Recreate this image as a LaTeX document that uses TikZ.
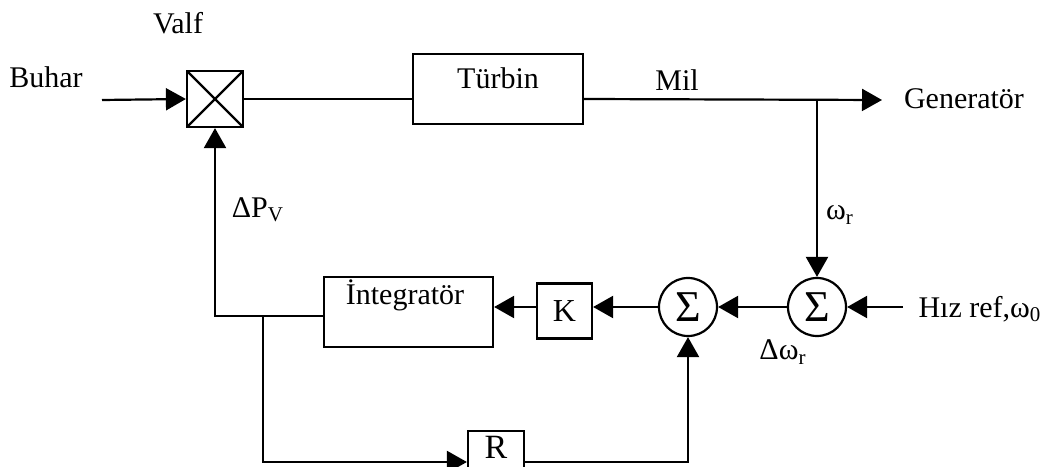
\documentclass[tikz,border=0pt]{standalone}
\usepackage{fontspec}
\setmainfont{Liberation Serif}
\usetikzlibrary{arrows.meta}
\begin{document}
\begin{tikzpicture}[x=0.5pt, y=0.5pt, line width=1.1pt,
    >={Triangle[length=10pt,width=11pt]},
    every node/.style={font=\fontsize{15}{18}\selectfont, inner sep=2pt},
    block/.style={draw, inner sep=0pt},
    valvebox/.style={draw, minimum size=28pt, inner sep=0pt,
        path picture={\draw (path picture bounding box.north west) -- (path picture bounding box.south east)
                            (path picture bounding box.south west) -- (path picture bounding box.north east);}},
    sumnode/.style={draw, circle, minimum size=29pt, inner sep=0pt, font=\fontsize{22}{26}\selectfont}]
    \useasboundingbox (0,0) rectangle (1049,466);

    % upper path
    \node (valftext) at (178,443) {Valf};
    \node (buhar) at (46,389) {Buhar};
    \coordinate (buharin) at (102,366);
    \node[valvebox] (valve) at (215,367) {};
    \node[block, minimum width=85pt, minimum height=35pt] (turbine) at (498,377) {};
    \node (turbinetext) at (498,388) {Türbin};
    \node (mil) at (677,386) {Mil};
    \coordinate (genin) at (882,366);
    \node (gen) at (964,367) {Generatör};

    % speed loop
    \node[sumnode] (sum2) at (817,159) {Σ};
    \node[sumnode] (sum1) at (688,159) {Σ};
    \coordinate (refin) at (903,159);
    \node (ref) at (980,157) {Hız ref,ω\textsubscript{0}};
    \node[block, minimum size=27.5pt, font=\fontsize{16}{19}\selectfont] (kbox) at (564.5,155) {K};
    \node[block, minimum width=84.5pt, minimum height=35pt] (integ) at (408.5,154) {};
    \node (integtext) at (405,171) {İntegratör};
    \node[block, minimum width=28pt, minimum height=23pt] (rbox) at (496,12) {};
    \node[font=\fontsize{17}{20}\selectfont] (rtext) at (496,19) {R};
    \coordinate (tap) at (sum2.north |- genin);
    \coordinate (fbcorner) at (valve.south |- 0,150);
    \coordinate (branch) at (263,150);
    \coordinate (rlow) at (263,4);

    \node (dpv) at (258,256) {ΔP\textsubscript{V}};
    \node (wr) at (840,251) {ω\textsubscript{r}};
    \node (dwr) at (783,114) {Δω\textsubscript{r}};

    \draw[->] (buharin) -- (valve.west);
    \draw (valve.east) -- (valve.east -| turbine.west);
    \draw[->] (turbine.east |- valve.east) -- (genin);
    \draw[->] (tap) -- (sum2.north);
    \draw[->] (refin) -- (sum2.east);
    \draw[->] (sum2.west) -- (sum1.east);
    \draw[->] (sum1.west) -- (sum1.west -| kbox.east);
    \draw[->] (sum1 -| kbox.west) -- (sum1 -| integ.east);
    \draw[->] (integ.west |- fbcorner) -- (fbcorner) -- (valve.south);
    \draw[->] (branch) -- (rlow) -- (rlow -| rbox.west);
    \draw[->] (rlow -| rbox.east) -- (rlow -| sum1) -- (sum1.south);
\end{tikzpicture}
\end{document}
